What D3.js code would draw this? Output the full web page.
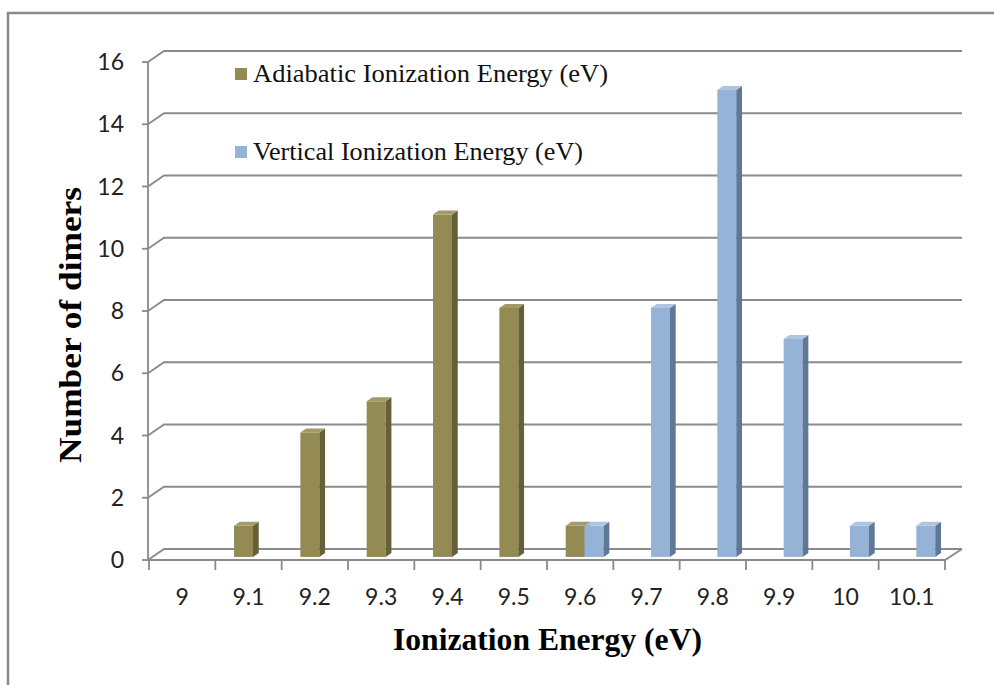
<!DOCTYPE html>
<html>
<head>
<meta charset="utf-8">
<script src="https://cdn.jsdelivr.net/npm/d3@7"></script>
<style>
  html, body { margin: 0; padding: 0; background: #fff; }
  svg { display: block; }
</style>
</head>
<body>
<script>
// Chart data
const categories = ["9", "9.1", "9.2", "9.3", "9.4", "9.5", "9.6", "9.7", "9.8", "9.9", "10", "10.1"];
const adiabatic = [0, 1, 4, 5, 11, 8, 1, 0, 0, 0, 0, 0];
const vertical = [0, 0, 0, 0, 0, 0, 1, 8, 15, 7, 1, 1];
const seriesNames = ["Adiabatic Ionization  Energy (eV)", "Vertical Ionization Energy (eV)"];
const yTicks = [0, 2, 4, 6, 8, 10, 12, 14, 16];

const W = 994, H = 685;
const gridColor = "#8a8a8a";

// 3d depth offset (front of floor -> back wall)
const DX = 16, DY = 11;
const f0 = 0.28, f1 = 0.64; // bar depth, fraction of floor depth

const svg = d3.select("body").append("svg")
  .attr("width", W)
  .attr("height", H);

// outer chart border (runs off the picture on right and bottom)
svg.append("rect")
  .attr("x", 8).attr("y", 13)
  .attr("width", 1010).attr("height", 700)
  .attr("fill", "none")
  .attr("stroke", gridColor)
  .attr("stroke-width", 2.5);

const x = d3.scaleBand()
  .domain(categories)
  .range([149, 945]);

const y = d3.scaleLinear()
  .domain([0, 16])
  .range([560, 62]);

const x0 = x.range()[0], x1 = x.range()[1];

// back wall gridlines + left wall diagonals
const grid = svg.append("g")
  .attr("stroke", gridColor)
  .attr("stroke-width", 1.8)
  .attr("fill", "none");

yTicks.forEach(v => {
  grid.append("path")
    .attr("d", `M${x0 - 1},${y(v)} L${x0 + DX - 1},${y(v) - DY} L${x1 + DX + 1},${y(v) - DY}`);
});

// floor: front edge and right edge
grid.append("path")
  .attr("d", `M${x0 - 1},${y(0)} L${x1},${y(0)} L${x1 + DX + 1},${y(0) - DY}`);

// y axis line
grid.append("line")
  .attr("x1", x0 - 1).attr("x2", x0 - 1)
  .attr("y1", y(16)).attr("y2", y(0));

// y ticks
yTicks.forEach(v => {
  grid.append("line")
    .attr("x1", x0 - 7).attr("x2", x0 - 1)
    .attr("y1", y(v)).attr("y2", y(v));
});

// x ticks at category boundaries
const bounds = categories.map(c => x(c)).concat([x1]);
bounds.forEach(b => {
  grid.append("line")
    .attr("x1", b).attr("x2", b)
    .attr("y1", y(0)).attr("y2", y(0) + 10);
});

// y tick labels
svg.append("g").selectAll("text")
  .data(yTicks)
  .enter().append("text")
  .attr("x", 124)
  .attr("y", d => y(d) + 8)
  .attr("text-anchor", "end")
  .attr("font-family", "Lato, 'Open Sans', sans-serif")
  .attr("font-size", 23)
  .attr("fill", "#222")
  .text(d => d);

// x tick labels
svg.append("g").selectAll("text")
  .data(categories)
  .enter().append("text")
  .attr("x", d => x(d) + x.bandwidth() / 2)
  .attr("y", 605)
  .attr("text-anchor", "middle")
  .attr("font-family", "Lato, 'Open Sans', sans-serif")
  .attr("font-size", 23)
  .attr("fill", "#222")
  .text(d => d);

// bars
const sub = d3.scaleBand()
  .domain([0, 1])
  .range([0, x.bandwidth()])
  .paddingOuter(0.75)
  .paddingInner(0);

const styles = [
  { face: "#948a54", side: "#666039", top: "#a39a67" },
  { face: "#95b3d7", side: "#5f7898", top: "#adc5e3" }
];

const bars = [];
categories.forEach((c, i) => {
  [adiabatic[i], vertical[i]].forEach((v, s) => {
    if (v > 0) bars.push({ c, s, v });
  });
});

const barG = svg.append("g");
bars.forEach(d => {
  const st = styles[d.s];
  const bx = x(d.c) + sub(d.s) + DX * f0;
  const bw = sub.bandwidth();
  const yb = y(0) - DY * f0;
  const yt = y(d.v) - DY * f0;
  const ddx = DX * (f1 - f0), ddy = DY * (f1 - f0);
  // front face
  barG.append("rect")
    .attr("x", bx).attr("y", yt)
    .attr("width", bw).attr("height", yb - yt)
    .attr("fill", st.face);
  // right side
  barG.append("path")
    .attr("d", `M${bx + bw},${yt} L${bx + bw + ddx},${yt - ddy} L${bx + bw + ddx},${yb - ddy} L${bx + bw},${yb} Z`)
    .attr("fill", st.side);
  // top
  barG.append("path")
    .attr("d", `M${bx},${yt} L${bx + ddx},${yt - ddy} L${bx + bw + ddx},${yt - ddy} L${bx + bw},${yt} Z`)
    .attr("fill", st.top);
});

// legend
const legend = svg.append("g");
const legendRows = [
  { y: 68, len: 355 },
  { y: 146, len: 330 }
];
seriesNames.forEach((name, i) => {
  legend.append("rect")
    .attr("x", 235).attr("y", legendRows[i].y)
    .attr("width", 12).attr("height", 12)
    .attr("fill", styles[i].face);
  legend.append("text")
    .attr("x", 253)
    .attr("y", legendRows[i].y + 14)
    .attr("font-family", "'Liberation Serif', 'Times New Roman', serif")
    .attr("font-size", 26)
    .attr("textLength", legendRows[i].len)
    .attr("lengthAdjust", "spacingAndGlyphs")
    .attr("fill", "#111")
    .text(name);
});

// axis titles
svg.append("text")
  .attr("x", 393)
  .attr("y", 650)
  .attr("font-family", "'Liberation Serif', 'Times New Roman', serif")
  .attr("font-weight", "bold")
  .attr("font-size", 32)
  .attr("textLength", 309)
  .attr("lengthAdjust", "spacingAndGlyphs")
  .attr("fill", "#000")
  .text("Ionization Energy (eV)");

svg.append("text")
  .attr("transform", "translate(81,463) rotate(-90)")
  .attr("x", 0)
  .attr("y", 0)
  .attr("font-family", "'Liberation Serif', 'Times New Roman', serif")
  .attr("font-weight", "bold")
  .attr("font-size", 32)
  .attr("textLength", 276)
  .attr("lengthAdjust", "spacingAndGlyphs")
  .attr("fill", "#000")
  .text("Number of dimers");
</script>
</body>
</html>
